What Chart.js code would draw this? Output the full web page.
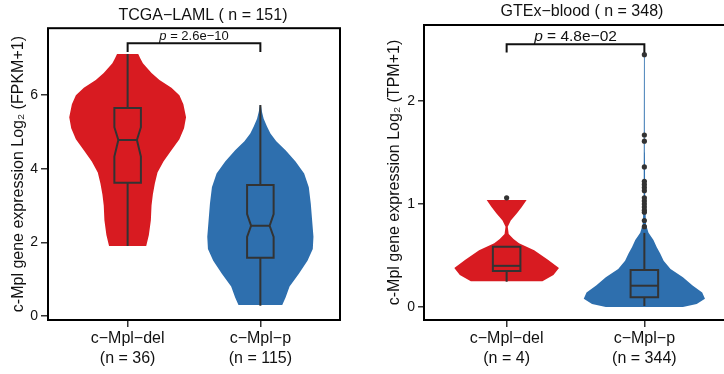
<!DOCTYPE html>
<html>
<head>
<meta charset="utf-8">
<script src="https://cdn.jsdelivr.net/npm/chart.js@4.4.1/dist/chart.umd.min.js"></script>
<style>
  html, body { margin: 0; padding: 0; overflow: hidden; background: #fff; }
  body { width: 724px; height: 374px; position: relative; }
  .panel { position: absolute; top: 0; height: 374px; }
  #left { left: 0; width: 406px; }
  #right { left: 362px; width: 440px; }
</style>
</head>
<body>
<div class="panel" id="left"><canvas id="tcga"></canvas></div>
<div class="panel" id="right"><canvas id="gtex"></canvas></div>
<script>
const groups = ["c−Mpl−del", "c−Mpl−p"]
const tcgaN = [36, 115]
const gtexN = [4, 344]
const tcgaTicks = [0, 2, 4, 6]
const gtexTicks = [0, 1, 2]
const tcgaP = "2.6e−10"
const gtexP = "4.8e−02"

// violin outlines: value levels (bottom -> top) and half widths in category units
const tcgaDelLevels = [1.9, 2.2, 2.6, 3.0, 3.3, 3.6, 3.9, 4.2, 4.5, 4.8, 5.1, 5.4, 5.75, 6.0, 6.2, 6.41, 6.6, 6.87, 7.0, 7.12]
const tcgaDelWidths = [0.14, 0.16, 0.175, 0.18, 0.19, 0.205, 0.225, 0.27, 0.33, 0.39, 0.425, 0.44, 0.42, 0.39, 0.33, 0.24, 0.18, 0.115, 0.095, 0.08]
const tcgaPLevels = [0.3, 0.5, 0.8, 1.15, 1.5, 1.82, 2.15, 2.6, 3.05, 3.5, 3.87, 4.2, 4.5, 4.75, 4.96, 5.15, 5.36, 5.55, 5.73]
const tcgaPWidths = [0.165, 0.19, 0.22, 0.29, 0.355, 0.395, 0.4, 0.39, 0.38, 0.365, 0.33, 0.265, 0.19, 0.12, 0.076, 0.05, 0.025, 0.012, 0.004]
const gtexDelLevels = [0.25, 0.31, 0.38, 0.46, 0.55, 0.62, 0.66, 0.71, 0.78, 0.84, 0.91, 0.97, 1.04]
const gtexDelWidths = [0.26, 0.34, 0.38, 0.3, 0.2, 0.09, 0.05, 0.015, 0.008, 0.03, 0.075, 0.11, 0.145]
const gtexPLevels = [0.0, 0.03, 0.08, 0.14, 0.21, 0.29, 0.37, 0.45, 0.52, 0.58, 0.65, 0.72, 0.8, 1.0, 1.5, 2.45]
const gtexPWidths = [0.28, 0.38, 0.44, 0.42, 0.35, 0.28, 0.19, 0.14, 0.115, 0.09, 0.066, 0.03, 0.012, 0.006, 0.004, 0.003]

// box stats: low whisker, q1, median, q3, high whisker
const tcgaDelBox = [1.9, 3.62, 4.78, 5.65, 7.12]
const tcgaDelNotch = [4.33, 5.13]
const tcgaPBox = [0.28, 1.58, 2.45, 3.56, 5.73]
const tcgaPNotch = [2.15, 2.77]
const gtexDelBox = [0.245, 0.35, 0.4, 0.585, 0.585]
const gtexPBox = [0.01, 0.094, 0.207, 0.36, 0.72]
const gtexDelOutliers = [1.06]
const gtexPOutliers = [0.78, 0.84, 0.92, 0.94, 0.97, 1.0, 1.03, 1.06, 1.13, 1.16, 1.19, 1.22, 1.36, 1.61, 1.67, 2.45]

const RED = "#D81B21"
const BLUE = "#2E6FAE"
const INK = "#333333"

Chart.defaults.font.family = "'Liberation Sans', Arial, sans-serif"
Chart.defaults.color = "#1a1a1a"

function violin(center, levels, widths, color) {
  const right = levels.map((v, i) => ({ x: center + widths[i], y: v }))
  const left = levels.map((v, i) => ({ x: center - widths[i], y: v })).reverse()
  return {
    data: right.concat(left),
    backgroundColor: color, borderColor: color, borderWidth: 0,
    fill: "shape", pointRadius: 0, order: 3
  }
}

function boxplot(center, stats, notch) {
  const [lo, q1, med, q3, hi] = stats
  const w = 0.1
  const nw = notch ? 0.07 : w
  let outline
  if (notch) {
    outline = [[-w, q3], [w, q3], [w, notch[1]], [nw, med], [w, notch[0]], [w, q1],
               [-w, q1], [-w, notch[0]], [-nw, med], [-w, notch[1]], [-w, q3], [w, q3]]
  } else {
    outline = [[-w, q3], [w, q3], [w, q1], [-w, q1], [-w, q3], [w, q3]]
  }
  const line = pts => ({
    data: pts.map(([dx, y]) => ({ x: center + dx, y })),
    borderColor: INK, borderWidth: 2, pointRadius: 0, fill: false, order: 1
  })
  return [line(outline), line([[-nw, med], [nw, med]]), line([[0, q3], [0, hi]]), line([[0, q1], [0, lo]])]
}

function outliers(center, values) {
  return {
    data: values.map(v => ({ x: center, y: v })),
    showLine: false, pointRadius: 2.6, pointBackgroundColor: INK, pointBorderWidth: 0, order: 0
  }
}

// black frame round the panel
const framePlugin = {
  id: "frame",
  afterDraw(chart) {
    const { ctx, chartArea: a } = chart
    ctx.save()
    ctx.strokeStyle = "#000"
    ctx.lineWidth = 2
    ctx.strokeRect(a.left, a.top, a.right - a.left, a.bottom - a.top)
    ctx.restore()
  }
}

// significance bracket with italic p
const pvaluePlugin = {
  id: "pvalue",
  afterDatasetsDraw(chart, args, opts) {
    const { ctx, scales: { x, y } } = chart
    const x1 = x.getPixelForValue(1), x2 = x.getPixelForValue(2)
    const yt = y.getPixelForValue(opts.top), yb = y.getPixelForValue(opts.drop)
    ctx.save()
    ctx.strokeStyle = "#111"
    ctx.lineWidth = 2
    ctx.beginPath()
    ctx.moveTo(x1, yb); ctx.lineTo(x1, yt); ctx.lineTo(x2, yt); ctx.lineTo(x2, yb)
    ctx.stroke()
    const f = opts.size + "px 'Liberation Sans', Arial, sans-serif"
    const rest = " = " + opts.text
    ctx.font = "italic " + f
    const wp = ctx.measureText("p").width
    ctx.font = f
    const wr = ctx.measureText(rest).width
    const sx = (x1 + x2) / 2 - (wp + wr) / 2
    ctx.fillStyle = "#111"
    ctx.textBaseline = "alphabetic"
    ctx.font = "italic " + f
    ctx.fillText("p", sx, yt - 3)
    ctx.font = f
    ctx.fillText(rest, sx + wp, yt - 3)
    ctx.restore()
  }
}

function panel(id, o) {
  return new Chart(document.getElementById(id), {
    type: "line",
    data: { datasets: o.datasets },
    options: {
      responsive: true,
      maintainAspectRatio: false,
      animation: false,
      events: [],
      layout: { padding: 0 },
      plugins: {
        legend: { display: false },
        tooltip: { enabled: false },
        title: {
          display: true, text: o.title, color: "#111",
          font: { size: 16, weight: "normal" }, padding: o.titlePad
        },
        pvalue: o.pvalue
      },
      scales: {
        x: {
          type: "linear", min: 0.4, max: 2.6,
          afterBuildTicks: s => { s.ticks = groups.map((g, i) => ({ value: i + 1 })) },
          afterFit: s => { s.height = 54 },
          ticks: {
            font: { size: 16, lineHeight: 1.25 }, color: "#111", padding: 2,
            maxRotation: 0, autoSkip: false,
            callback: v => [groups[v - 1], "(n = " + o.counts[v - 1] + ")"]
          },
          grid: { drawOnChartArea: false, tickLength: 7, color: INK, lineWidth: 1.5 },
          border: { display: false }
        },
        y: {
          min: o.ymin, max: o.ymax,
          afterBuildTicks: s => { s.ticks = o.ticks.map(v => ({ value: v })) },
          afterFit: s => { s.width = o.yWidth },
          ticks: { font: { size: 14 }, color: "#111", padding: 3 },
          grid: { drawOnChartArea: false, tickLength: o.tickLen, color: INK, lineWidth: 1.5 },
          border: { display: false },
          title: {
            display: true, text: o.yTitle, color: "#111",
            font: { size: 16 }, padding: { top: o.yTitlePad, bottom: 0 }
          }
        },
        // empty axis keeping the title centred like the original
        yR: {
          position: "right", display: true, min: 0, max: 1,
          afterFit: s => { s.width = o.rightGap },
          ticks: { display: false }, grid: { display: false }, border: { display: false }
        }
      }
    },
    plugins: [framePlugin, pvaluePlugin]
  })
}

panel("tcga", {
  title: "TCGA−LAML ( n = 151)",
  titlePad: { top: 6, bottom: 3 },
  yTitle: "c-Mpl gene expression Log₂ (FPKM+1)",
  yTitlePad: 9,
  yWidth: 48, rightGap: 66, tickLen: 7,
  ymin: -0.11, ymax: 7.82, ticks: tcgaTicks, counts: tcgaN,
  pvalue: { top: 7.41, drop: 7.17, text: tcgaP, size: 13 },
  datasets: [
    violin(1, tcgaDelLevels, tcgaDelWidths, RED),
    violin(2, tcgaPLevels, tcgaPWidths, BLUE),
    ...boxplot(1, tcgaDelBox, tcgaDelNotch),
    ...boxplot(2, tcgaPBox, tcgaPNotch)
  ]
})

panel("gtex", {
  title: "GTEx−blood ( n = 348)",
  titlePad: { top: 1.5, bottom: 4.3 },
  yTitle: "c-Mpl gene expression Log₂ (TPM+1)",
  yTitlePad: 23,
  yWidth: 62, rightGap: 75, tickLen: 6,
  ymin: -0.126, ymax: 2.738, ticks: gtexTicks, counts: gtexN,
  pvalue: { top: 2.55, drop: 2.47, text: gtexP, size: 15.5 },
  datasets: [
    violin(1, gtexDelLevels, gtexDelWidths, RED),
    violin(2, gtexPLevels, gtexPWidths, BLUE),
    ...boxplot(1, gtexDelBox, null),
    ...boxplot(2, gtexPBox, null),
    outliers(1, gtexDelOutliers),
    outliers(2, gtexPOutliers)
  ]
})
</script>
</body>
</html>
